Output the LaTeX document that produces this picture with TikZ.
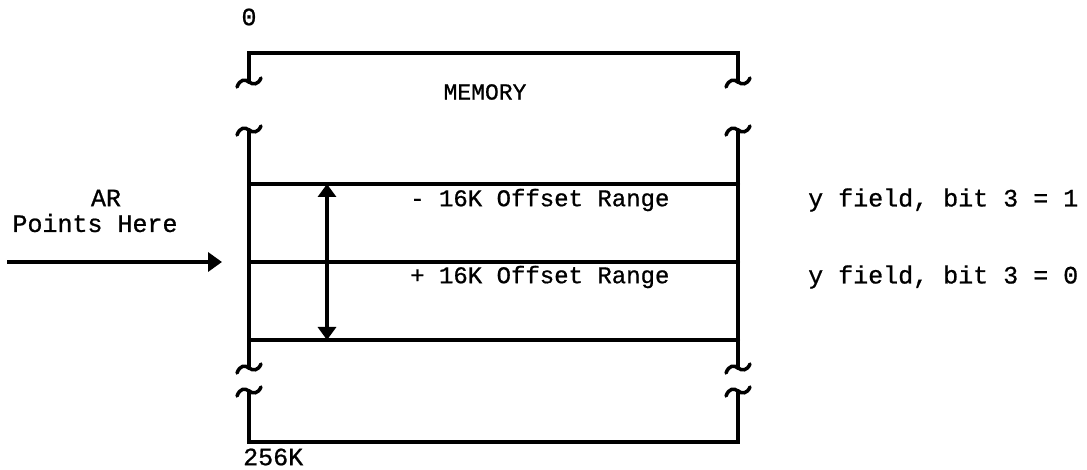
\documentclass[tikz,border=0pt]{standalone}
\usepackage{fontspec}
\setmainfont{Liberation Mono}[FakeBold=0.8]
\usetikzlibrary{arrows.meta}
\tikzset{
  boxline/.style={line width=4pt, line cap=round, line join=miter},
  arrowline/.style={line width=3.5pt},
  lbl/.style={inner sep=0pt, font=\fontsize{25}{28}\selectfont},
  brk/.pic={\draw[line width=3.5pt, line cap=round]
     (-12,5) .. controls (-9,-3) and (-4,-3) .. (0,0)
     .. controls (4,3) and (9,3) .. (12,-4);}
}
\begin{document}
\begin{tikzpicture}[x=1pt,y=-1pt]
\useasboundingbox (0,0) rectangle (1087,470);
% top segment
\draw[boxline] (249,82) -- (249,53) -- (738,53) -- (738,82);
\pic at (249,82) {brk};
\pic at (738,82) {brk};
% middle segment
\draw[boxline] (249,130) -- (249,368);
\draw[boxline] (738,130) -- (738,368);
\pic at (249,130) {brk};
\pic at (738,130) {brk};
\pic at (249,368) {brk};
\pic at (738,368) {brk};
% bottom segment
\draw[boxline] (249,391) -- (249,442) -- (738,442) -- (738,391);
\pic at (249,391) {brk};
\pic at (738,391) {brk};
% horizontal lines
\coordinate (h1l) at (249,184); \coordinate (h1r) at (738,184);
\coordinate (h2l) at (249,262); \coordinate (h2r) at (738,262);
\coordinate (h3l) at (249,340); \coordinate (h3r) at (738,340);
\draw[boxline] (h1l) -- (h1r);
\draw[boxline] (h2l) -- (h2r);
\draw[boxline] (h3l) -- (h3r);
% double arrow
\coordinate (da) at (327,184);
\coordinate (db) at (327,340);
\draw[arrowline, {Triangle[length=13pt,width=18pt]}-{Triangle[length=13pt,width=18pt]}] (da) -- (db);
% AR arrow
\coordinate (ars) at (7,262);
\coordinate (are) at (222,262);
\draw[arrowline, -{Triangle[length=14pt,width=19pt]}] (ars) -- (are);
% texts
\node[lbl] (zero) at (249,17) {0};
\node[lbl, font=\fontsize{23}{26}\selectfont] (mem) at (485,92) {MEMORY};
\node[lbl] (ar) at (106,198) {AR};
\node[lbl] (ph) at (95,223) {Points Here};
\node[lbl, anchor=west, font=\fontsize{24}{27}\selectfont] (neg) at (410,200) {- 16K Offset Range};
\node[lbl, anchor=west, font=\fontsize{24}{27}\selectfont] (pos) at (410,277) {+ 16K Offset Range};
\node[lbl, anchor=west] (y1) at (808,200) {y field, bit 3 = 1};
\node[lbl, anchor=west] (y0) at (808,277) {y field, bit 3 = 0};
\node[lbl, anchor=west] (end) at (243,457) {256K};
\end{tikzpicture}
\end{document}
